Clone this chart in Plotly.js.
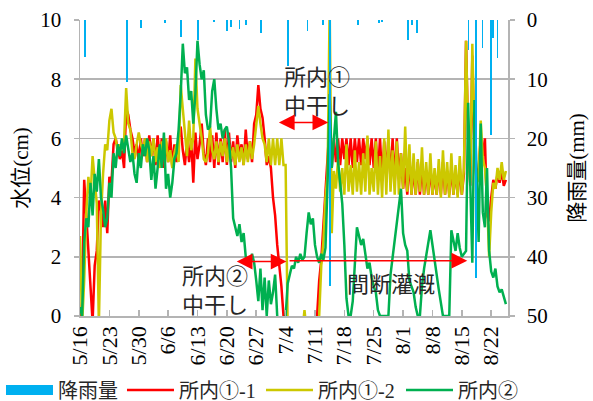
<!DOCTYPE html>
<html>
<head>
<meta charset="utf-8">
<script src="https://cdn.plot.ly/plotly-3.0.1.min.js"></script>
<style>html,body{margin:0;padding:0;background:#fff;}#chart{width:593px;height:401px;}</style>
</head>
<body>
<div id="chart"></div>
<script>
// Water level series: one value every 12 hours starting 5/16 00:00 (cm)
const level_1_1 = [
 -0.5, 0.5, 4.6, 3.3, 2.0, 1.0, -0.2, 1.7, 2.2, 3.9, 3.6, 3.0, 3.9, 2.8,
 4.7, 4.5, 5.8, 6.0, 5.6, 5.3, 5.6, 5.0, 7.0, 6.8, 6.3, 6.0, 5.5, 5.8,
 5.2, 6.0, 5.4, 6.0, 5.2, 6.1, 5.4, 6.0, 5.1, 6.1, 5.3, 6.0, 5.0, 5.9,
 5.2, 6.1, 5.0, 5.8, 5.2, 6.0, 6.4, 5.6, 5.1, 5.9, 5.2, 6.0, 4.5, 6.2,
 5.3, 5.8, 6.5, 5.5, 5.1, 6.0, 5.2, 6.1, 5.0, 6.2, 5.1, 6.0, 5.2, 6.3,
 5.1, 6.2, 5.2, 5.9, 5.0, 6.1, 5.4, 5.8, 5.1, 6.3, 5.3, 5.9, 5.2, 6.5,
 6.8, 7.8, 7.0, 6.7, 6.0, 5.1, 5.4, 5.0, 4.0, 3.4, 2.4, 1.8, 1.0, 0.0,
 -0.5, -0.5, -0.5, -0.5, -0.5, -0.5, -0.5, -0.5, -0.5, -0.5, -0.5, -0.5, -0.5, -0.5,
 -0.5, 0.0, 1.2, 1.9, 3.0, 4.3, 5.1, 6.5, 5.0, 6.0, 5.2, 6.0, 5.1, 6.0,
 5.3, 6.0, 5.1, 6.0, 5.0, 6.0, 5.2, 6.0, 5.1, 6.0, 5.3, 6.0, 5.1, 6.0,
 5.0, 6.0, 4.8, 6.0, 4.6, 5.9, 4.8, 6.0, 4.6, 6.0, 4.5, 6.0, 4.7, 5.5,
 4.3, 5.0, 4.1, 5.3, 4.1, 5.0, 4.1, 5.2, 4.1, 5.1, 4.1, 4.9, 4.1, 5.0,
 4.1, 4.8, 4.1, 5.0, 4.1, 5.2, 4.1, 4.9, 4.1, 5.0, 4.1, 4.9, 4.1, 5.0,
 4.1, 4.8, 9.3, 6.0, 4.4, 8.8, 5.8, 4.6, 5.0, 6.0, 5.4, 6.0, 3.4, 3.2,
 4.0, 4.6, 4.3, 4.8, 4.5, 4.9, 4.4, 4.6
];
const level_1_2 = [
 2.7, -0.3, 1.2, 3.5, 4.7, 4.0, 5.4, 4.5, 3.8, -0.3, 3.4, 4.8, 5.8, 5.6,
 6.6, 7.0, 6.2, 6.0, 5.5, 5.8, 5.6, 5.9, 7.7, 6.5, 6.3, 5.5, 5.3, 5.8,
 6.2, 5.8, 5.6, 6.0, 5.2, 5.9, 5.4, 6.0, 5.2, 5.7, 5.0, 5.9, 5.3, 6.0,
 5.2, 5.6, 5.0, 5.5, 5.8, 5.2, 7.8, 7.0, 6.3, 5.4, 6.6, 5.6, 6.0, 8.7,
 7.0, 6.5, 6.0, 5.3, 5.2, 5.5, 6.4, 5.6, 5.3, 5.9, 5.2, 5.9, 5.4, 6.0,
 5.2, 5.8, 5.3, 5.7, 5.1, 5.8, 5.2, 5.7, 5.1, 5.8, 5.2, 5.9, 5.3, 5.8,
 6.4, 7.1, 6.5, 6.0, 5.8, 5.2, 6.0, 5.1, 6.0, 5.1, 6.0, 5.1, 6.0, 5.1,
 5.1, -0.5, -0.5, -0.5, -0.5, -0.5, -0.5, -0.5, -0.5, 0.2, -0.5, -0.5, -0.5, -0.5,
 -0.5, -0.5, 0.0, 1.7, 2.5, 4.0, 4.8, 10.5, 2.8, 4.9, 4.3, 5.3, 4.2, 5.0,
 4.1, 5.8, 4.2, 5.1, 4.1, 5.6, 4.2, 5.2, 4.1, 5.5, 4.2, 6.1, 4.1, 5.0,
 4.2, 5.9, 4.1, 5.4, 4.0, 6.0, 4.1, 6.3, 4.2, 5.6, 4.1, 5.9, 4.1, 5.5,
 4.3, 6.4, 4.2, 5.8, 4.1, 5.5, 4.1, 5.3, 4.2, 5.7, 4.1, 5.2, 4.1, 5.5,
 4.1, 5.0, 4.1, 5.3, 4.0, 5.6, 4.1, 5.2, 4.0, 5.5, 4.1, 5.1, 4.0, 5.4,
 4.1, 5.0, 9.3, 6.0, 4.5, 9.2, 6.0, 4.5, 4.6, 6.6, 5.3, 5.0, 4.0, 2.0,
 3.5, 4.5, 4.3, 5.0, 4.6, 5.2, 4.6, 4.9
];
const level_2 = [
 0.3, 0.0, 2.5, 3.3, 3.0, 4.5, 3.4, 4.8, 4.2, 5.3, 4.0, 3.6, 3.0, 3.3,
 4.5, 4.0, 5.5, 5.0, 5.8, 5.4, 6.0, 5.5, 6.1, 5.6, 5.2, 5.5, 4.8, 4.5,
 5.5, 5.0, 5.8, 5.4, 6.0, 5.6, 4.6, 5.4, 4.3, 5.0, 5.8, 5.0, 6.2, 4.3,
 4.8, 4.0, 4.5, 5.3, 5.5, 6.3, 7.5, 9.2, 8.2, 8.4, 7.3, 7.6, 6.5, 7.5,
 9.3, 8.5, 8.0, 8.3, 6.8, 6.3, 6.4, 7.6, 8.0, 7.0, 6.3, 6.5, 6.0, 6.3,
 6.4, 5.9, 5.0, 3.3, 3.0, 2.7, 3.1, 2.5, 2.8, 2.0, 1.9, 1.7, 2.1, 1.8,
 1.2, 0.5, 1.6, 0.2, 1.3, 0.0, 1.2, 0.4, 0.8, 1.4, 0.0, -0.3, -0.3, -0.3,
 0.0, 1.1, 1.4, 1.7, 1.6, 2.0, 1.8, 2.1, 1.9, 2.0, 2.8, 3.5, 3.1, 3.3,
 2.4, 2.0, 1.8, 2.1, 1.9, 2.3, 4.5, 7.5, 5.0, 6.0, 6.9, 5.2, 4.4, 3.8,
 2.4, 0.6, 0.0, 0.0, 0.5, 2.0, 3.0, 2.7, 2.4, 2.6, 2.0, 1.6, 1.8, 1.3,
 1.0, 0.8, 0.2, 0.0, 0.0, 0.0, 0.0, 0.0, 1.4, 2.0, 2.4, 3.2, 3.8, 4.3,
 2.8, 2.4, 2.2, 1.2, 1.0, 0.8, 0.3, 0.0, 0.0, 1.0, 1.6, 2.0, 2.5, 2.9,
 2.4, 1.8, 1.4, 0.9, 0.5, 0.0, 0.0, 0.0, 0.0, 2.9, 2.6, 2.2, 2.8, 2.3,
 2.0, 2.1, 2.2, 7.2, 4.2, 1.8, 7.3, 4.5, 2.5, 6.5, 3.5, 3.0, 5.0, 2.2,
 1.5, 1.3, 1.6, 1.0, 0.8, 0.9, 0.6, 0.4
];

// Rainfall (mm)
const rainTimes = [
 '2021-05-17 06:00','2021-05-27 05:00','2021-05-30 12:00','2021-06-05 07:00',
 '2021-06-09 02:00','2021-06-13 05:00','2021-06-17 00:00','2021-06-20 00:00',
 '2021-06-21 02:00','2021-06-23 00:00','2021-06-24 14:00','2021-06-28 05:00',
 '2021-07-04 14:00','2021-07-09 05:00','2021-07-13 00:00','2021-07-14 14:00',
 '2021-07-21 07:00','2021-07-26 07:00','2021-07-27 00:00','2021-08-02 02:00',
 '2021-08-03 02:00','2021-08-04 07:00','2021-08-16 14:00','2021-08-18 07:00',
 '2021-08-19 22:00','2021-08-21 22:00','2021-08-22 12:00','2021-08-23 12:00'
];
const rainValues = [
 6.3, 10.5, 1.4, 0.5,
 2.8, 3.4, 0.3, 1.9,
 1.1, 1.5, 0.8, 2.2,
 7.7, 1.8, 0.8, 45,
 0.8, 0.5, 0.4, 3.4,
 0.8, 2.2, 5, 43.6,
 4.7, 19.4, 3, 6.4
];

const tickDates = ['2021-05-16','2021-05-23','2021-05-30','2021-06-06','2021-06-13','2021-06-20','2021-06-27',
 '2021-07-04','2021-07-11','2021-07-18','2021-07-25','2021-08-01','2021-08-08','2021-08-15','2021-08-22'];
const tickLabels = ['5/16','5/23','5/30','6/6','6/13','6/20','6/27','7/4','7/11','7/18','7/25','8/1','8/8','8/15','8/22'];

const seriesNames = ['降雨量','所内①-1','所内①-2','所内②'];

const startMs = Date.UTC(2021, 4, 16);
function stamp(i){
  const d = new Date(startMs + i * 12 * 3600 * 1000);
  return d.toISOString().slice(0,16).replace('T',' ');
}
const times = level_1_1.map((_, i) => stamp(i));

const FONT = '"Liberation Serif", "Noto Sans CJK JP", serif';
const GRID = '#B4B4B4';
const TXT = '#262626';

const traces = [
  {type:'scatter', x:[null], y:[null], mode:'lines', name:seriesNames[0], legend:'legend',
   line:{color:'#00B0F0', width:10}, hoverinfo:'skip'},
  {type:'scatter', x:times, y:level_1_1, mode:'lines', name:seriesNames[1], legend:'legend2',
   line:{color:'#FF0000', width:2.5}},
  {type:'scatter', x:times, y:level_1_2, mode:'lines', name:seriesNames[2], legend:'legend3',
   line:{color:'#CCC800', width:2.5}},
  {type:'scatter', x:times, y:level_2, mode:'lines', name:seriesNames[3], legend:'legend4',
   line:{color:'#00B050', width:2.5}},
  {type:'bar', x:rainTimes, y:rainValues, yaxis:'y2', name:seriesNames[0], showlegend:false,
   marker:{color:'#00B0F0', line:{width:0}}, width:0.45*86400000}
];

function legendAt(xp){
  return {orientation:'h', x:xp, xanchor:'left', y:-0.25, yanchor:'middle',
    font:{family:FONT, size:20, color:TXT}, bgcolor:'rgba(0,0,0,0)', itemwidth:47};
}

const annFont = {family:FONT, size:22, color:TXT};
const layout = {
  width:593, height:401,
  margin:{l:80, r:85, t:20, b:85, autoexpand:false},
  paper_bgcolor:'#fff', plot_bgcolor:'#fff',
  font:{family:FONT, color:'#000'},
  showlegend:true,
  legend:legendAt(-0.1846),
  legend2:legendAt(0.0981),
  legend3:legendAt(0.4229),
  legend4:legendAt(0.750),
  xaxis:{type:'date', range:['2021-05-16','2021-08-26'], tickvals:tickDates, ticktext:tickLabels,
    tickangle:-90, tickfont:{family:FONT, size:22, color:'#000'}, ticks:'inside', ticklen:6,
    tickcolor:GRID, tickwidth:1.5, showgrid:false, showline:true, linecolor:GRID, linewidth:1.5,
    zeroline:false, automargin:false},
  yaxis:{range:[0,10], dtick:2, tickfont:{family:FONT, size:21, color:'#000'}, ticks:'outside', ticklen:5,
    tickcolor:GRID, tickwidth:1.5, showgrid:true, gridcolor:GRID, gridwidth:1.5, showline:true,
    linecolor:GRID, linewidth:1.5, zeroline:false, automargin:false, ticklabelstandoff:8,
    title:{text:'水位(cm)', font:{family:FONT, size:21, color:'#000'}, standoff:6}},
  yaxis2:{overlaying:'y', side:'right', range:[50,0], dtick:10, tickfont:{family:FONT, size:21, color:'#000'},
    ticks:'outside', ticklen:5, tickcolor:GRID, tickwidth:1.5, showgrid:false, showline:true,
    linecolor:GRID, linewidth:1.5, zeroline:false, automargin:false, ticklabelstandoff:8,
    title:{text:'降雨量(mm)', font:{family:FONT, size:21, color:'#000'}, standoff:22}},
  bargap:0,
  annotations:[
    {x:'2021-07-11 09:00', y:7.57, xref:'x', yref:'y', text:'所内①<br>中干し', showarrow:false, font:annFont, align:'center'},
    {x:'2021-06-17 06:00', y:0.85, xref:'x', yref:'y', text:'所内②<br>中干し', showarrow:false, font:annFont, align:'center'},
    {x:'2021-07-29 03:00', y:1.05, xref:'x', yref:'y', text:'間断灌漑', showarrow:false, font:annFont},
    {x:'2021-07-14 04:00', y:6.54, ax:'2021-07-02 01:00', ay:6.54, xref:'x', yref:'y', axref:'x', ayref:'y',
     text:'', showarrow:true, arrowhead:2, startarrowhead:2, arrowside:'end+start', arrowsize:2.1, startarrowsize:2.1,
     arrowwidth:1.5, arrowcolor:'#FF0000'},
    {x:'2021-07-04 05:00', y:1.84, ax:'2021-06-22 00:00', ay:1.84, xref:'x', yref:'y', axref:'x', ayref:'y',
     text:'', showarrow:true, arrowhead:2, startarrowhead:2, arrowside:'end+start', arrowsize:2.1, startarrowsize:2.1,
     arrowwidth:1.5, arrowcolor:'#FF0000'},
    {x:'2021-08-16 07:00', y:1.87, ax:'2021-07-04 14:00', ay:1.87, xref:'x', yref:'y', axref:'x', ayref:'y',
     text:'', showarrow:true, arrowhead:2, arrowside:'end', arrowsize:2.1,
     arrowwidth:1.5, arrowcolor:'#FF0000'}
  ]
};

Plotly.newPlot('chart', traces, layout, {displayModeBar:false, staticPlot:true});
</script>
</body>
</html>
